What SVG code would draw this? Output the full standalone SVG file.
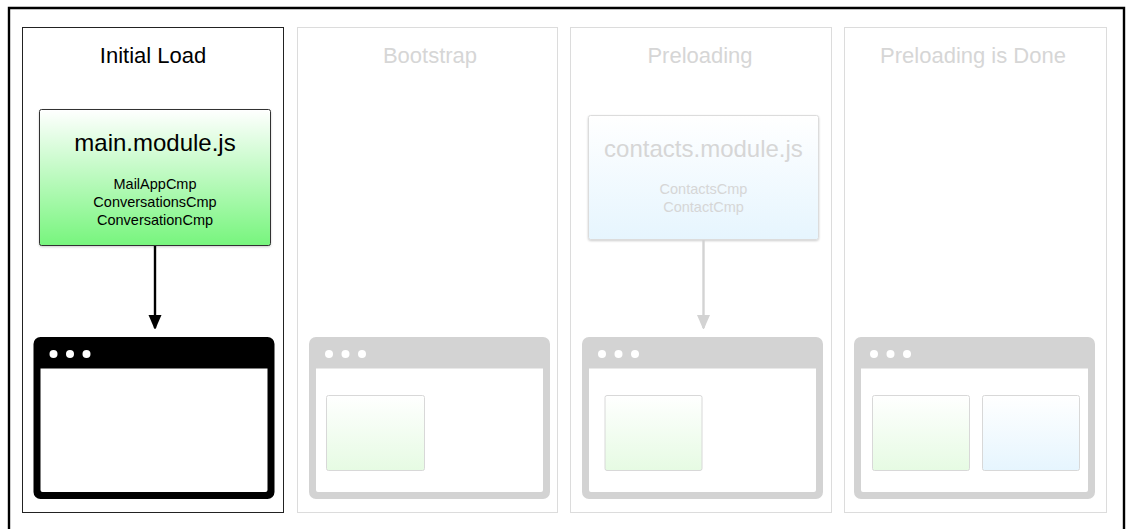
<svg xmlns="http://www.w3.org/2000/svg" width="1126" height="529" viewBox="0 0 1126 529">
<style>
text{font-family:"Liberation Sans",Arial,sans-serif;text-anchor:middle}
.t{font-size:22px}
.m{font-size:24px}
.c{font-size:14.5px}
.on{fill:#000}
.off{fill:#d6d6d6}
.panel{fill:#fff;stroke-width:1}
.chrome{stroke:none}
.dot{fill:#fff}
</style>
<defs>
<linearGradient id="gGreen" x1="0" y1="0" x2="0" y2="1"><stop offset="0" stop-color="#fff"/><stop offset="1" stop-color="#77f57d"/></linearGradient>
<linearGradient id="gBlue" x1="0" y1="0" x2="0" y2="1"><stop offset="0" stop-color="#fff"/><stop offset="1" stop-color="#e6f5fe"/></linearGradient>
<linearGradient id="gPale" x1="0" y1="0" x2="0" y2="1"><stop offset="0" stop-color="#fff"/><stop offset="1" stop-color="#e6fbe3"/></linearGradient>
<marker id="aBlack" markerUnits="userSpaceOnUse" markerWidth="14" markerHeight="17" refX="13" refY="6.5" orient="auto"><path d="M0 0L15 6.5L0 13z" fill="#000"/></marker>
<marker id="aGrey" markerUnits="userSpaceOnUse" markerWidth="14" markerHeight="17" refX="13" refY="6.5" orient="auto"><path d="M0 0L15 6.5L0 13z" fill="#d3d3d3"/></marker>
<filter id="sh" x="-5%" y="-5%" width="110%" height="115%"><feDropShadow dx="0" dy="1" stdDeviation="1" flood-color="#000" flood-opacity=".2"/></filter>
</defs>
<rect width="1126" height="529" fill="#fff"/>
<path id="frame" d="M9 529V8H1124V529" fill="none" stroke="#000" stroke-width="2.4"/>

<g id="panel-initial">
<rect class="panel" x="22.5" y="27.5" width="261" height="485" stroke="#222"/>
<text class="t on" x="153" y="63">Initial Load</text>
</g>
<g id="panel-bootstrap">
<rect class="panel" x="297.5" y="27.5" width="260" height="485" stroke="#dcdcdc"/>
<text class="t off" x="430" y="63">Bootstrap</text>
</g>
<g id="panel-preloading">
<rect class="panel" x="570.5" y="27.5" width="261" height="485" stroke="#dcdcdc"/>
<text class="t off" x="700" y="63">Preloading</text>
</g>
<g id="panel-done">
<rect class="panel" x="844.5" y="27.5" width="262" height="485" stroke="#dcdcdc"/>
<text class="t off" x="973" y="63">Preloading is Done</text>
</g>

<g id="module-main">
<rect x="39.5" y="109.5" width="231" height="136" rx="2" fill="url(#gGreen)" stroke="#333" filter="url(#sh)"/>
<text class="m on" x="155" y="151">main.module.js</text>
<text class="c on" x="155" y="189">MailAppCmp</text>
<text class="c on" x="155" y="207">ConversationsCmp</text>
<text class="c on" x="155" y="225">ConversationCmp</text>
</g>
<g id="module-contacts">
<rect x="588.5" y="115.5" width="230" height="124" rx="2" fill="url(#gBlue)" stroke="#dcdcdc" filter="url(#sh)"/>
<text class="m off" x="703.500" y="157">contacts.module.js</text>
<text class="c off" x="703.500" y="194">ContactsCmp</text>
<text class="c off" x="703.500" y="212">ContactCmp</text>
</g>

<g id="connectors" fill="none">
<path d="M155 246V328" stroke="#000" stroke-width="2.4" marker-end="url(#aBlack)"/>
<path d="M703.500 240V328" stroke="#d3d3d3" stroke-width="2.4" marker-end="url(#aGrey)"/>
</g>

<g id="window-initial">
<path class="chrome" fill="#000" fill-rule="evenodd" d="M40.500 337H267.500a7 7 0 0 1 7 7V492a7 7 0 0 1-7 7H40.500a7 7 0 0 1-7-7V344a7 7 0 0 1 7-7ZM40.500 368.500V490a2 2 0 0 0 2 2H265.500a2 2 0 0 0 2-2V368.500Z"/>
<circle class="dot" cx="53.500" cy="354" r="4"/><circle class="dot" cx="70" cy="354" r="4"/><circle class="dot" cx="86.500" cy="354" r="4"/>
</g>
<g id="window-bootstrap" transform="translate(275.500 0)">
<path class="chrome" fill="#d3d3d3" fill-rule="evenodd" d="M40.500 337H267.500a7 7 0 0 1 7 7V492a7 7 0 0 1-7 7H40.500a7 7 0 0 1-7-7V344a7 7 0 0 1 7-7ZM40.500 368.500V490a2 2 0 0 0 2 2H265.500a2 2 0 0 0 2-2V368.500Z"/>
<circle class="dot" cx="53.500" cy="354" r="4"/><circle class="dot" cx="70" cy="354" r="4"/><circle class="dot" cx="86.500" cy="354" r="4"/>
<rect x="51" y="395.500" width="98" height="75" rx="2" fill="url(#gPale)" stroke="#d8d8d8"/>
</g>
<g id="window-preloading" transform="translate(548.500 0)">
<path class="chrome" fill="#d3d3d3" fill-rule="evenodd" d="M40.500 337H267.500a7 7 0 0 1 7 7V492a7 7 0 0 1-7 7H40.500a7 7 0 0 1-7-7V344a7 7 0 0 1 7-7ZM40.500 368.500V490a2 2 0 0 0 2 2H265.500a2 2 0 0 0 2-2V368.500Z"/>
<circle class="dot" cx="53.500" cy="354" r="4"/><circle class="dot" cx="70" cy="354" r="4"/><circle class="dot" cx="86.500" cy="354" r="4"/>
<rect x="56.500" y="395.500" width="97" height="75" rx="2" fill="url(#gPale)" stroke="#d8d8d8"/>
</g>
<g id="window-done" transform="translate(820.500 0)">
<path class="chrome" fill="#d3d3d3" fill-rule="evenodd" d="M40.500 337H267.500a7 7 0 0 1 7 7V492a7 7 0 0 1-7 7H40.500a7 7 0 0 1-7-7V344a7 7 0 0 1 7-7ZM40.500 368.500V490a2 2 0 0 0 2 2H265.500a2 2 0 0 0 2-2V368.500Z"/>
<circle class="dot" cx="53.500" cy="354" r="4"/><circle class="dot" cx="70" cy="354" r="4"/><circle class="dot" cx="86.500" cy="354" r="4"/>
<rect x="52" y="395.500" width="97" height="75" rx="2" fill="url(#gPale)" stroke="#d8d8d8"/>
<rect x="162" y="395.500" width="97" height="75" rx="2" fill="url(#gBlue)" stroke="#d8d8d8"/>
</g>
</svg>
